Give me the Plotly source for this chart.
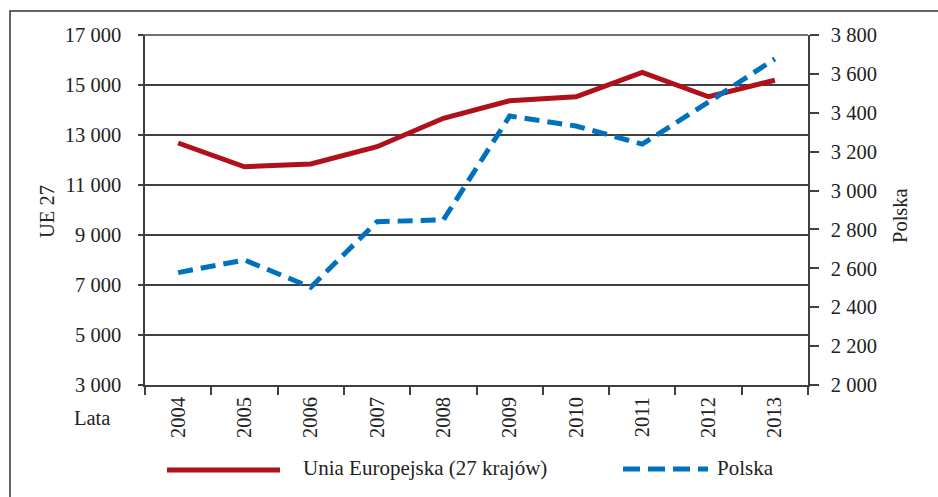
import plotly.graph_objects as go

# Years and series
years = ["2004", "2005", "2006", "2007", "2008", "2009", "2010", "2011", "2012", "2013"]
ue27 = [12680, 11730, 11840, 12530, 13670, 14370, 14530, 15500, 14530, 15190]
polska = [2578, 2643, 2503, 2840, 2849, 3383, 3332, 3239, 3455, 3677]

left_ticks = [3000, 5000, 7000, 9000, 11000, 13000, 15000, 17000]
right_ticks = [2000, 2200, 2400, 2600, 2800, 3000, 3200, 3400, 3600, 3800]

RED = "#B0101A"
BLUE = "#0071BC"
AX = "#404040"
TXT = "#222222"
FONT = "Liberation Serif"
FS = 20.5

fig = go.Figure()
fig.add_trace(go.Scatter(x=years, y=ue27, mode="lines", name="Unia Europejska (27 krajów)",
                         line=dict(color=RED, width=5), yaxis="y"))
fig.add_trace(go.Scatter(x=years, y=polska, mode="lines", name="Polska",
                         line=dict(color=BLUE, width=5, dash="15px,8px"), yaxis="y2"))

W, H = 938, 497
L, R, T, B = 145, 808, 35, 385


def px(x):
    return (x - L) / (R - L)


def py(y):
    return (B - y) / (B - T)


fig.update_layout(
    width=W, height=H,
    margin=dict(l=L, r=W - R, t=T, b=H - B),
    paper_bgcolor="white", plot_bgcolor="white",
    separators=", ",
    showlegend=False,
    font=dict(family=FONT, size=FS, color=TXT),
    xaxis=dict(type="category", range=[-0.5, len(years) - 0.5], tickson="boundaries",
               ticks="outside", ticklen=8,
               tickcolor=AX, tickwidth=1.5, showline=True, linecolor=AX, linewidth=1.5,
               tickangle=-90, showgrid=False, tickfont=dict(size=FS, family=FONT),
               ticklabelstandoff=2),
    yaxis=dict(range=[3000, 17000], tickvals=left_ticks, tickformat=",d",
               ticks="outside", ticklen=5, tickcolor=AX, tickwidth=1.5,
               showline=True, linecolor=AX, linewidth=1.5,
               showgrid=True, gridcolor=AX, gridwidth=1.5, zeroline=False,
               ticklabelstandoff=13),
    yaxis2=dict(range=[2000, 3800], tickvals=right_ticks, tickformat=",d",
                overlaying="y", side="right", ticks="outside", ticklen=9,
                tickcolor=AX, tickwidth=1.5, showline=True, linecolor=AX, linewidth=1.5,
                showgrid=False, zeroline=False, ticklabelstandoff=8),
)

shapes = [
    # outer frame
    dict(type="rect", xref="paper", yref="paper", x0=px(10), x1=px(945), y0=py(505), y1=py(11),
         line=dict(color="#333333", width=1.5), fillcolor="rgba(0,0,0,0)", layer="below"),
    # top gridline
    dict(type="line", xref="paper", yref="paper", x0=px(140), x1=1, y0=1, y1=1,
         line=dict(color=AX, width=1.5)),
    # legend samples
    dict(type="line", xref="paper", yref="paper", x0=px(167), x1=px(280), y0=py(470), y1=py(470),
         line=dict(color=RED, width=5)),
    dict(type="line", xref="paper", yref="paper", x0=px(623), x1=px(708), y0=py(469), y1=py(469),
         line=dict(color=BLUE, width=5, dash="17px,8px")),
]
fig.update_layout(shapes=shapes)

ann = [
    dict(text="Unia Europejska (27 krajów)", x=px(301), y=py(468), xanchor="left", yanchor="middle", size=21),
    dict(text="Polska", x=px(715), y=py(468), xanchor="left", yanchor="middle", size=21),
    dict(text="Lata", x=px(92), y=py(418), xanchor="center", yanchor="middle", size=FS),
    dict(text="UE 27", x=px(47), y=py(212), xanchor="center", yanchor="middle", textangle=-90, size=FS),
    dict(text="Polska", x=px(900), y=py(216), xanchor="center", yanchor="middle", textangle=-90, size=FS),
]
for a in ann:
    size = a.pop("size")
    fig.add_annotation(xref="paper", yref="paper", showarrow=False,
                       font=dict(family=FONT, size=size, color=TXT), **a)

fig.write_html("out.html")
